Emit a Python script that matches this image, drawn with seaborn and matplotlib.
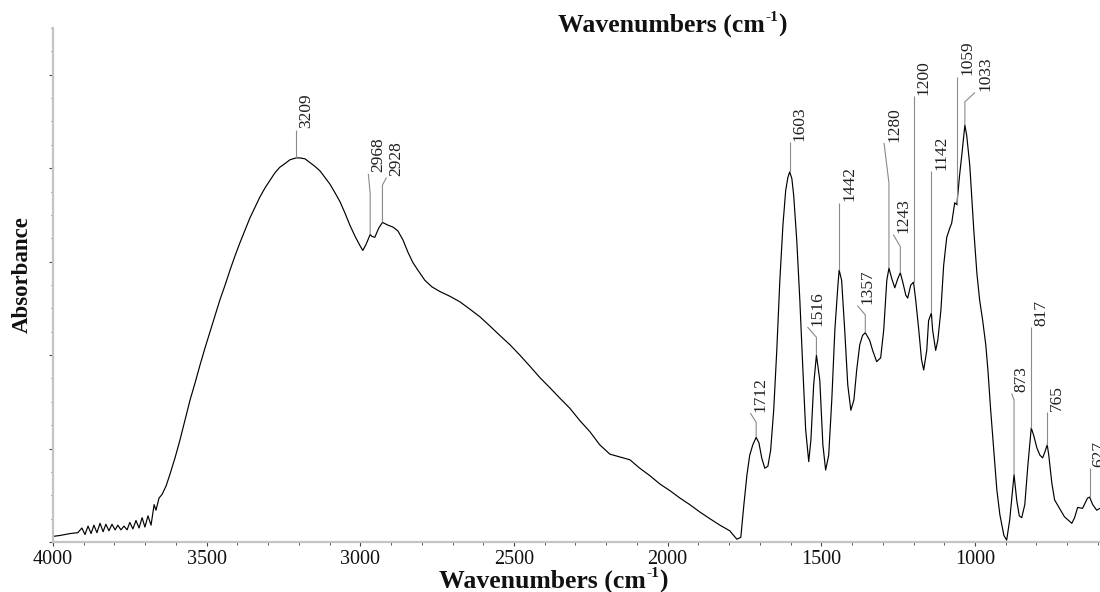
import numpy as np
import pandas as pd
import matplotlib
matplotlib.use("Agg")
import matplotlib.pyplot as plt
import seaborn as sns
from matplotlib.ticker import MultipleLocator, NullFormatter

# ---------------- data ----------------
wavenumber = [
    4000, 3977, 3945, 3919, 3906, 3896, 3886, 3876, 3867, 3857,
    3847, 3837, 3828, 3818, 3808, 3798, 3789, 3779, 3769, 3759,
    3750, 3740, 3730, 3720, 3710, 3701, 3691, 3681, 3671, 3665,
    3655, 3645, 3632, 3619, 3603, 3587, 3571, 3554, 3538, 3522,
    3506, 3489, 3473, 3457, 3440, 3424, 3408, 3392, 3375, 3359,
    3343, 3327, 3310, 3294, 3278, 3262, 3245, 3229, 3209, 3197,
    3180, 3164, 3148, 3131, 3115, 3099, 3083, 3066, 3050, 3034,
    3017, 3001, 2992, 2982, 2968, 2962, 2953, 2940, 2928, 2910,
    2894, 2878, 2861, 2845, 2829, 2813, 2790, 2767, 2741, 2709,
    2676, 2643, 2611, 2578, 2546, 2513, 2481, 2448, 2416, 2383,
    2351, 2318, 2286, 2253, 2221, 2188, 2156, 2123, 2091, 2058,
    2025, 1993, 1960, 1928, 1895, 1863, 1830, 1798, 1775, 1762,
    1752, 1742, 1733, 1723, 1712, 1703, 1694, 1684, 1674, 1665,
    1655, 1645, 1635, 1625, 1616, 1609, 1603, 1596, 1590, 1580,
    1570, 1560, 1551, 1541, 1534, 1525, 1516, 1505, 1495, 1486,
    1476, 1466, 1456, 1446, 1442, 1434, 1424, 1414, 1404, 1394,
    1385, 1375, 1366, 1357, 1343, 1333, 1320, 1307, 1297, 1287,
    1280, 1271, 1261, 1251, 1243, 1235, 1225, 1219, 1209, 1200,
    1193, 1183, 1174, 1167, 1157, 1151, 1142, 1138, 1128, 1121,
    1111, 1102, 1092, 1082, 1076, 1066, 1059, 1050, 1043, 1033,
    1027, 1017, 1004, 994, 985, 975, 965, 958, 949, 939,
    929, 919, 906, 897, 887, 873, 864, 856, 848, 838,
    828, 817, 809, 799, 789, 780, 773, 765, 760, 750,
    741, 725, 709, 685, 676, 666, 650, 634, 627, 617,
    604, 594,
]
absorbance = [
    0.006, 0.007, 0.009, 0.010, 0.015, 0.008, 0.017, 0.009, 0.018, 0.010,
    0.020, 0.011, 0.019, 0.012, 0.019, 0.013, 0.018, 0.013, 0.017, 0.013,
    0.021, 0.014, 0.023, 0.015, 0.026, 0.016, 0.028, 0.018, 0.040, 0.034,
    0.047, 0.051, 0.060, 0.073, 0.090, 0.109, 0.130, 0.152, 0.170, 0.189,
    0.207, 0.225, 0.242, 0.259, 0.275, 0.291, 0.306, 0.320, 0.334, 0.347,
    0.358, 0.369, 0.379, 0.387, 0.395, 0.401, 0.405, 0.409, 0.411, 0.411,
    0.410, 0.406, 0.402, 0.397, 0.390, 0.383, 0.374, 0.364, 0.352, 0.339,
    0.327, 0.317, 0.312, 0.318, 0.329, 0.327, 0.326, 0.336, 0.342, 0.339,
    0.337, 0.333, 0.323, 0.310, 0.299, 0.291, 0.280, 0.273, 0.268, 0.263,
    0.257, 0.249, 0.241, 0.231, 0.221, 0.211, 0.200, 0.188, 0.176, 0.165,
    0.154, 0.143, 0.130, 0.118, 0.104, 0.094, 0.091, 0.088, 0.079, 0.071,
    0.062, 0.055, 0.047, 0.040, 0.032, 0.025, 0.018, 0.012, 0.003, 0.005,
    0.040, 0.072, 0.093, 0.104, 0.112, 0.106, 0.090, 0.079, 0.081, 0.098,
    0.141, 0.205, 0.280, 0.339, 0.376, 0.390, 0.396, 0.389, 0.371, 0.323,
    0.259, 0.184, 0.120, 0.086, 0.109, 0.168, 0.200, 0.173, 0.104, 0.077,
    0.093, 0.152, 0.227, 0.275, 0.291, 0.280, 0.227, 0.168, 0.141, 0.152,
    0.184, 0.211, 0.221, 0.224, 0.216, 0.205, 0.193, 0.197, 0.227, 0.280,
    0.293, 0.282, 0.272, 0.282, 0.288, 0.278, 0.264, 0.261, 0.275, 0.278,
    0.259, 0.227, 0.195, 0.184, 0.205, 0.237, 0.245, 0.227, 0.205, 0.216,
    0.248, 0.296, 0.326, 0.336, 0.341, 0.363, 0.361, 0.393, 0.414, 0.446,
    0.435, 0.403, 0.334, 0.288, 0.259, 0.237, 0.211, 0.184, 0.141, 0.098,
    0.056, 0.029, 0.007, 0.002, 0.024, 0.072, 0.044, 0.028, 0.026, 0.040,
    0.082, 0.122, 0.114, 0.101, 0.093, 0.090, 0.096, 0.104, 0.093, 0.063,
    0.045, 0.036, 0.027, 0.020, 0.026, 0.037, 0.036, 0.047, 0.048, 0.040,
    0.034, 0.036,
]

# peak annotations
peak_labels = ["3209", "2968", "2928", "1712", "1603", "1516", "1442", "1357", "1280",
               "1243", "1200", "1142", "1059", "1033", "873", "817", "765", "627"]
peak_wn = [3209, 2968, 2928, 1712, 1603, 1516, 1442, 1357, 1280,
           1243, 1200, 1142, 1059, 1033, 873, 817, 765, 627]
label_top = [0.441, 0.394, 0.390, 0.138, 0.428, 0.230, 0.363, 0.253, 0.427,
             0.329, 0.477, 0.397, 0.498, 0.481, 0.159, 0.230, 0.139, 0.079]
label_kink = [np.nan, 0.373, 0.382, 0.128, np.nan, 0.219, np.nan, 0.243, 0.384,
              0.316, np.nan, np.nan, np.nan, 0.471, 0.152, np.nan, np.nan, np.nan]
label_shift = [0, 6, -13, 19, 0, 29, 0, 26, 16,
               23, 0, 0, 0, -33, 8, 0, 0, 0]

x_ticks = [4000, 3500, 3000, 2500, 2000, 1500, 1000]
x_tick_labels = ["4000", "3500", "3000", "2500", "2000", "1500", "1000"]

axis_title = "Wavenumbers (cm"
axis_title_sup = "-1"
axis_title_end = ")"
y_title = "Absorbance"

# ---------------- styling ----------------
sns.set_theme(style="white")
plt.rcParams["font.family"] = ["Liberation Serif", "DejaVu Serif"]

W, H = 1100, 592
fig = plt.figure(figsize=(W / 100, H / 100), dpi=100)
ax = fig.add_axes([53 / W, 50 / H, 1 - 53 / W, 514 / H])

df = pd.DataFrame({"Wavenumber": wavenumber, "Absorbance": absorbance})
sns.lineplot(data=df, x="Wavenumber", y="Absorbance", ax=ax, color="black",
             linewidth=0.85, sort=False, estimator=None)

ax.set_xlim(4000, 593.3)
ax.set_ylim(0, 0.55)
ax.set_xlabel("")
ax.set_ylabel("")

for s in ["top", "right"]:
    ax.spines[s].set_visible(False)
for s in ["left", "bottom"]:
    ax.spines[s].set_color("#c4c4c4")
    ax.spines[s].set_linewidth(1.6)

ax.set_xticks(x_ticks)
ax.set_xticklabels(x_tick_labels)
ax.xaxis.set_minor_locator(MultipleLocator(100))
ax.yaxis.set_major_locator(MultipleLocator(0.1))
ax.yaxis.set_minor_locator(MultipleLocator(0.025))
ax.yaxis.set_major_formatter(NullFormatter())
ax.tick_params(axis="x", which="major", bottom=True, direction="out", length=3.0,
               width=0.8, color="#444444", labelsize=14.5, pad=2.5, labelcolor="#111111")
ax.tick_params(axis="x", which="minor", bottom=True, direction="out", length=2,
               width=0.7, color="#555555")
ax.tick_params(axis="y", which="major", left=True, direction="out", length=3,
               width=0.8, color="#444444")
ax.tick_params(axis="y", which="minor", left=True, direction="out", length=1.2,
               width=0.7, color="#555555")

# peak labels with leader lines
wn_sorted = np.array(wavenumber[::-1], dtype=float)
ab_sorted = np.array(absorbance[::-1], dtype=float)
for lab, wn, top, kink, shift in zip(peak_labels, peak_wn, label_top, label_kink, label_shift):
    base = np.interp(wn, wn_sorted, ab_sorted)
    xs = [wn]
    ys = [base]
    if not np.isnan(kink):
        xs.append(wn)
        ys.append(kink)
    xs.append(wn + shift)
    ys.append(top)
    ax.plot(xs, ys, color="#8a8a8a", linewidth=0.8, solid_capstyle="butt")
    ax.annotate(lab, xy=(wn + shift, top), xytext=(1.5, 1.0), textcoords="offset points",
                rotation=90, ha="left", va="bottom", fontsize=12.5, color="#202020",
                annotation_clip=False)


# titles with a true hyphen superscript
def super_title(xc_px, baseline_px, fs):
    kw = dict(fontweight="bold", color="#111111", va="baseline", ha="left")
    t1 = fig.text(0, 0, axis_title, fontsize=fs, **kw)
    t2 = fig.text(0, 0, axis_title_sup, fontsize=fs * 0.6, **kw)
    t3 = fig.text(0, 0, axis_title_end, fontsize=fs, **kw)
    r = fig.canvas.get_renderer()
    w1 = t1.get_window_extent(r).width
    w2 = t2.get_window_extent(r).width
    w3 = t3.get_window_extent(r).width
    x0 = xc_px - (w1 + w2 + w3) / 2
    yb = H - baseline_px
    t1.set_position((x0 / W, yb / H))
    t2.set_position(((x0 + w1 + 0.5) / W, (yb + fs * 0.42 * 100 / 72) / H))
    t3.set_position(((x0 + w1 + w2 + 1) / W, yb / H))


super_title(672, 32, 18.5)
super_title(553, 588, 18.5)
fig.text(22 / W, 1 - 275 / H, y_title, rotation=90, ha="center", va="center",
         fontsize=16.5, fontweight="bold", color="#111111")

fig.savefig("out.png", dpi=100)
